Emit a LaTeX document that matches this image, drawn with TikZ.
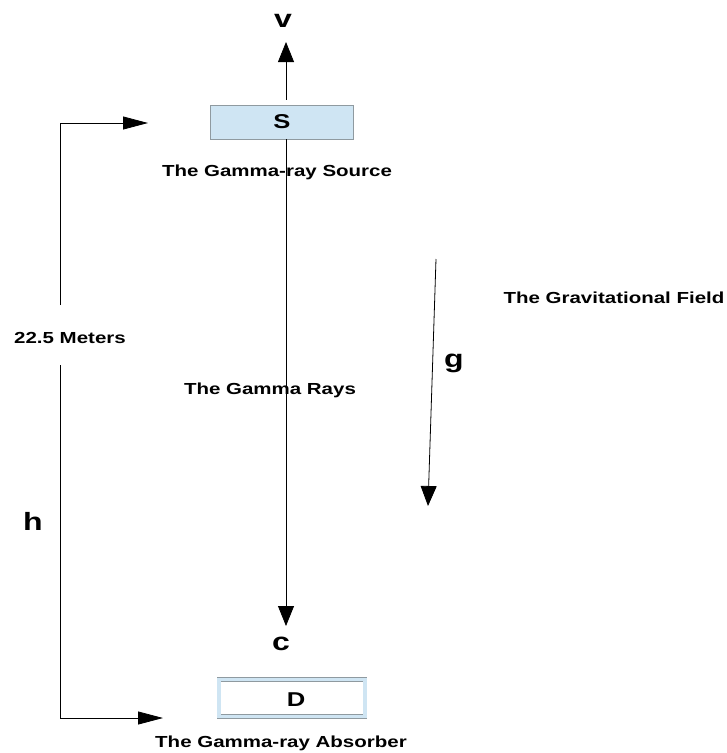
\documentclass[tikz,border=0pt]{standalone}
\usepackage{fontspec}
\setmainfont{Liberation Sans}[FakeStretch=1.28]
\usetikzlibrary{arrows.meta}
\definecolor{boxblue}{HTML}{CFE5F3}
\definecolor{boxgray}{HTML}{8F9AA0}

\begin{document}
\begin{tikzpicture}[x=1pt, y=-1pt, line width=0.8pt,
  lbl/.style={font=\fontsize{16}{18}\selectfont\bfseries, inner sep=0pt},
  big/.style={font=\fontsize{25}{27}\selectfont\bfseries, inner sep=0pt},
  letter/.style={font=\fontsize{20}{22}\selectfont\bfseries, inner sep=0pt},
  ray/.style={-{Triangle[length=20pt, width=16pt]}},
  bracket/.style={-{Triangle[length=25pt, width=13pt]}},
  source/.style={draw=boxgray, fill=boxblue, line width=0.7pt,
    minimum width=143pt, minimum height=34pt, inner sep=0pt},
  absorber/.style={draw=boxgray, double=boxblue, double distance=3.5pt,
    line width=0.7pt, fill=white, minimum width=146pt, minimum height=37pt,
    inner sep=0pt},
]
  \useasboundingbox (0,0) rectangle (727,753);
  % boxes
  \node[source] (S) at (281.5,122) {};
  \node[absorber] (D) at (292,698) {};
  \node[letter] (Slbl) at (282,122) {S};
  \node[letter] (Dlbl) at (296,700) {D};
  % arrow tips
  \coordinate (vtip) at (286,42);
  \coordinate (ctip) at (286,626);
  \coordinate (gtop) at (436,259);
  \coordinate (gtip) at (428,506);
  \coordinate (hTop) at (60,305);
  \coordinate (hBot) at (60,365);
  \coordinate (Stip) at (148,123);
  \coordinate (Dtip) at (163,718);
  % rays
  \draw[ray, shorten <=5pt] (S.north -| vtip) -- (vtip);
  \draw[ray] (S.south -| ctip) -- (ctip);
  \draw[ray] (gtop) -- (gtip);
  % height bracket
  \draw[bracket] (hTop) |- (Stip);
  \draw[bracket] (hBot) |- (Dtip);
  % labels
  \node[big] (v) at (283,21) {v};
  \node[big] (c) at (281,644) {c};
  \node[big] (g) at (454,363) {g};
  \node[big] (h) at (33,521) {h};
  \node[lbl] (srcname) at (277,172) {The Gamma-ray Source};
  \node[lbl] (raysname) at (270,390) {The Gamma Rays};
  \node[lbl] (absname) at (281,743) {The Gamma-ray Absorber};
  \node[lbl] (fieldname) at (614,298) {The Gravitational Field};
  \node[lbl] (meters) at (70,338) {22.5 Meters};
\end{tikzpicture}
\end{document}
